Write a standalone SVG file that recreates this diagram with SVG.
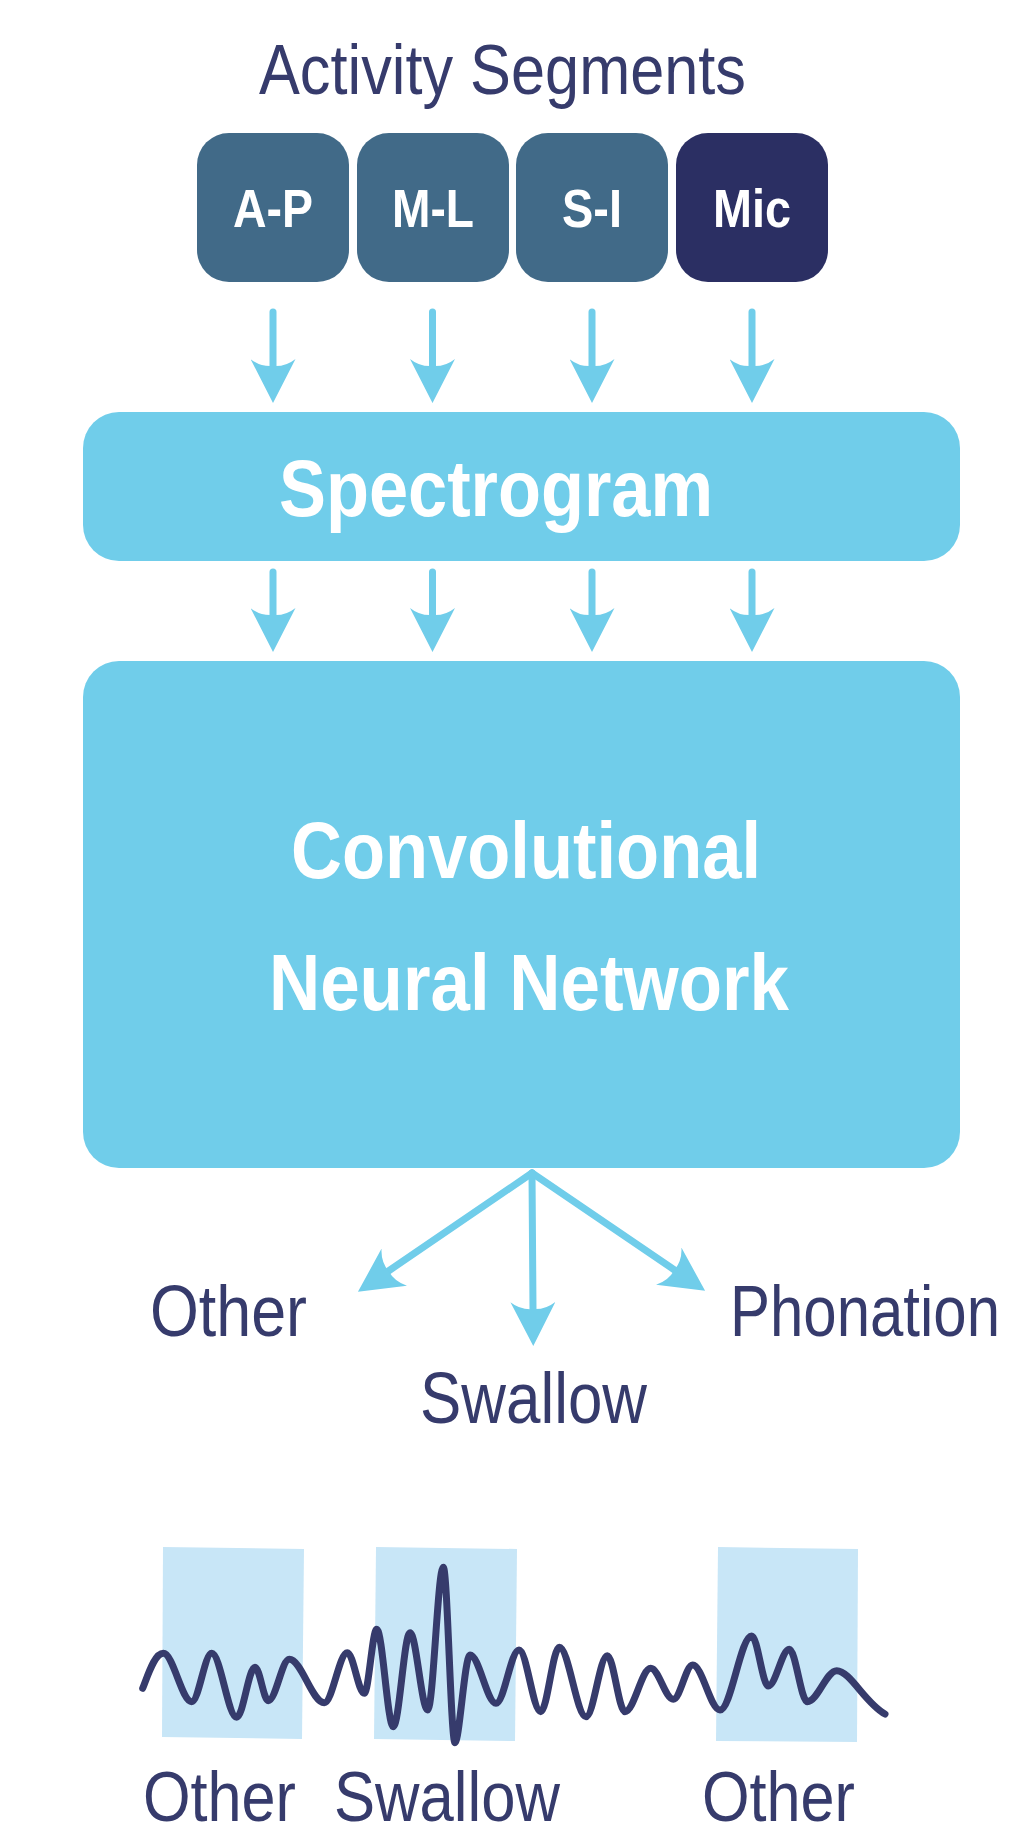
<svg xmlns="http://www.w3.org/2000/svg" width="1010" height="1836" viewBox="0 0 1010 1836">
<style>
.t{font-family:"Liberation Sans",Arial,Helvetica,sans-serif;}
.lbl{font-size:72px;fill:#363b6c;}
.lb2{font-size:70px;fill:#363b6c;}
.wl{font-size:54px;font-weight:bold;fill:#ffffff;}
.big{font-size:80px;font-weight:bold;fill:#ffffff;}
.seg{fill:#416a88;}
.blue{fill:#70cdea;}
.conn{stroke:#70cdea;stroke-width:7;fill:none;stroke-linecap:round;marker-end:url(#ah);}
.band{fill:#c8e6f7;}
</style>
<defs>
<marker id="ah" viewBox="0 0 44 45" markerWidth="44" markerHeight="45" refX="7" refY="22.5" orient="auto" markerUnits="userSpaceOnUse">
<path d="M44,22.5 L0,0 Q8,10 7,22.5 Q8,35 0,45 Z" fill="#70cdea"/>
</marker>
</defs>
<rect width="1010" height="1836" fill="#ffffff"/>

<g id="title">
<text class="t lb2" x="259" y="94" textLength="487" lengthAdjust="spacingAndGlyphs">Activity Segments</text>
</g>

<g id="node-ap">
<rect class="seg" x="197" y="133" width="152" height="149" rx="32"/>
<text class="t wl" x="233" y="227" textLength="80" lengthAdjust="spacingAndGlyphs">A-P</text>
</g>
<g id="node-ml">
<rect class="seg" x="357" y="133" width="152" height="149" rx="32"/>
<text class="t wl" x="392" y="227" textLength="82" lengthAdjust="spacingAndGlyphs">M-L</text>
</g>
<g id="node-si">
<rect class="seg" x="516" y="133" width="152" height="149" rx="32"/>
<text class="t wl" x="562" y="227" textLength="60" lengthAdjust="spacingAndGlyphs">S-I</text>
</g>
<g id="node-mic">
<rect x="676" y="133" width="152" height="149" rx="32" fill="#2b2f63"/>
<text class="t wl" x="713" y="227" textLength="78" lengthAdjust="spacingAndGlyphs">Mic</text>
</g>

<g id="node-spectrogram">
<rect class="blue" x="83" y="412" width="877" height="149" rx="36"/>
<text class="t big" x="279" y="516" textLength="434" lengthAdjust="spacingAndGlyphs">Spectrogram</text>
</g>

<g id="node-cnn">
<rect class="blue" x="83" y="661" width="877" height="507" rx="36"/>
<text class="t big" x="291" y="878" textLength="470" lengthAdjust="spacingAndGlyphs">Convolutional</text>
<text class="t big" x="269" y="1010" textLength="520" lengthAdjust="spacingAndGlyphs">Neural Network</text>
</g>

<g id="node-other">
<text class="t lbl" x="150" y="1336" textLength="157" lengthAdjust="spacingAndGlyphs">Other</text>
</g>
<g id="node-swallow">
<text class="t lbl" x="420" y="1423" textLength="227" lengthAdjust="spacingAndGlyphs">Swallow</text>
</g>
<g id="node-phonation">
<text class="t" fill="#363b6c" style="font-size:60px" transform="translate(730 1336) scale(1 1.2)" x="0" y="0" textLength="270" lengthAdjust="spacingAndGlyphs">Phonation</text>
</g>

<g id="connectors">
<path class="conn" d="M273,312 L273,366"/>
<path class="conn" d="M432.5,312 L432.5,366"/>
<path class="conn" d="M592,312 L592,366"/>
<path class="conn" d="M752,312 L752,366"/>
<path class="conn" d="M273,572 L273,615"/>
<path class="conn" d="M432.5,572 L432.5,615"/>
<path class="conn" d="M592,572 L592,615"/>
<path class="conn" d="M752,572 L752,615"/>
<path class="conn" d="M532,1173 L388.5,1271"/>
<path class="conn" d="M532,1173 L533,1309"/>
<path class="conn" d="M532,1173 L674.5,1270"/>
</g>

<g id="timeline">
<polygon class="band" points="163,1547 304,1549 302,1739 162,1737"/>
<polygon class="band" points="376,1547 517,1549 515,1741 374,1739"/>
<polygon class="band" points="718,1547 858,1549 857,1742 716,1741"/>
<path d="M142.7,1688.3 C149,1672 155,1653.3 163.3,1653.3 C173.2,1653.3 181.8,1701.7 191.7,1701.7 C198.7,1701.7 204.7,1653.3 211.7,1653.3 C220.4,1653.3 228,1717.3 236.7,1717.3 C243.1,1717.3 248.6,1667.3 255,1667.3 C259.7,1667.3 263.6,1700.7 268.3,1700.7 C275.7,1700.7 282,1659.3 289.3,1659.3 C301.5,1659.3 312,1702.7 324.3,1702.7 C332.3,1702.7 339.3,1652.7 347.3,1652.7 C353.3,1652.7 358.3,1693.3 364.3,1693.3 C368.6,1693.3 372.4,1629.3 376.7,1629.3 C382.5,1629.3 387.5,1726.7 393.3,1726.7 C399.1,1726.7 404.2,1632.7 410,1632.7 C416.2,1632.7 421.5,1710 427.7,1710 C433.2,1710 437.8,1567.3 443.3,1567.3 C447.4,1567.3 450.9,1742.7 455,1742.7 C459.3,1742.7 464.8,1655 470,1655 C479.1,1655 486.9,1703.3 496,1703.3 C504,1703.3 511,1650 519,1650 C526.6,1650 533.1,1711.7 540.7,1711.7 C547.2,1711.7 552.8,1647.3 559.3,1647.3 C568.6,1647.3 576.7,1716.7 586,1716.7 C593.5,1716.7 599.8,1655.7 607.3,1655.7 C613.5,1655.7 618.8,1711.7 625,1711.7 C634,1711.7 641.7,1668.3 650.7,1668.3 C658.6,1668.3 665.4,1699.3 673.3,1699.3 C680.1,1699.3 685.9,1665 692.7,1665 C702.3,1665 710.4,1710 720,1710 C731.1,1710 740.6,1636 751.7,1636 C757.5,1636 762.5,1686 768.3,1686 C775.6,1686 782,1649.3 789.3,1649.3 C795.6,1649.3 801,1701.7 807.3,1701.7 C817.6,1701.7 826.4,1670.7 836.7,1670.7 C850,1670.7 865,1703 885,1714" fill="none" stroke="#363b6c" stroke-width="7" stroke-linecap="round" stroke-linejoin="round"/>
<text class="t lb2" x="143" y="1821" textLength="153" lengthAdjust="spacingAndGlyphs">Other</text>
<text class="t lb2" x="334" y="1821" textLength="226" lengthAdjust="spacingAndGlyphs">Swallow</text>
<text class="t lb2" x="702" y="1821" textLength="153" lengthAdjust="spacingAndGlyphs">Other</text>
</g>
</svg>
